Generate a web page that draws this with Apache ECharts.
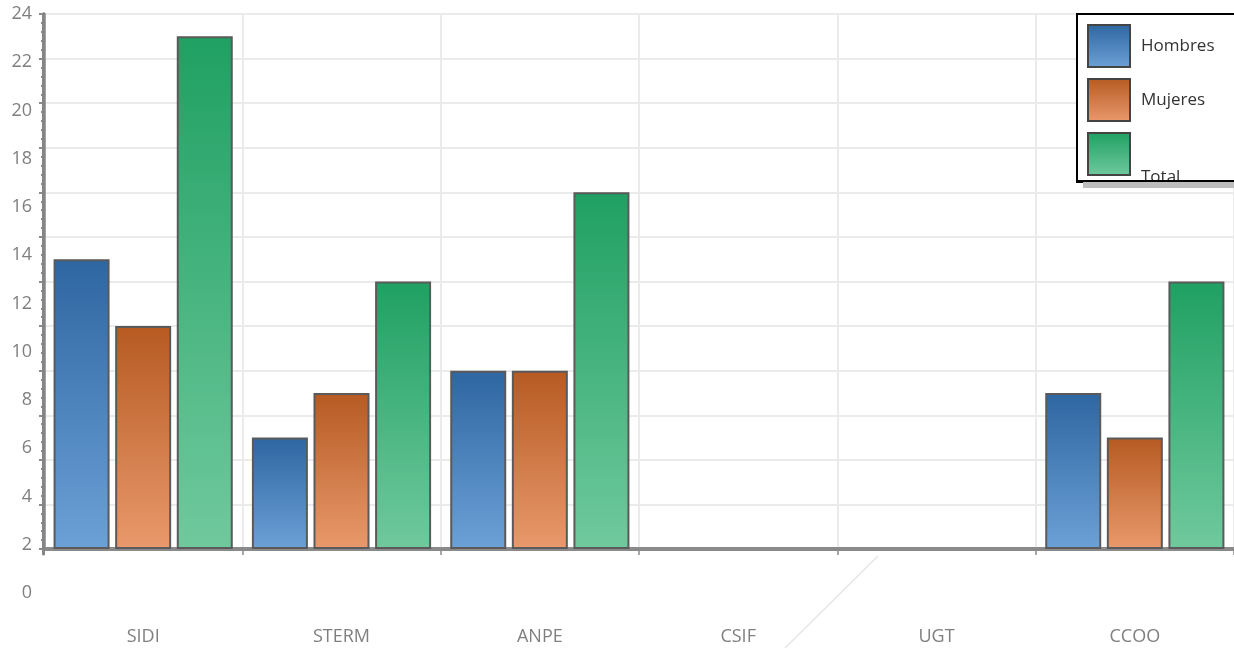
<!DOCTYPE html>
<html><head><meta charset="utf-8">
<script src="https://cdn.jsdelivr.net/npm/echarts@6/dist/echarts.min.js"></script>
<style>html,body{margin:0;padding:0;background:#fff}#c{width:1234px;height:648px}</style>
</head><body><div id="c"></div>
<script>
const categories = ['SIDI', 'STERM', 'ANPE', 'CSIF', 'UGT', 'CCOO'];
const hombres = [13, 5, 8, 0, 0, 7];
const mujeres = [10, 7, 8, 0, 0, 5];
const total = [23, 12, 16, 0, 0, 12];
const seriesNames = ['Hombres', 'Mujeres', 'Total'];

const FONT = '"Open Sans", "Noto Sans", sans-serif';
function grad(top, bottom) {
  return new echarts.graphic.LinearGradient(0, 0, 0, 1, [
    { offset: 0, color: top }, { offset: 1, color: bottom }
  ]);
}
const fills = [grad('#2e66a1', '#6ba1d6'), grad('#b65a22', '#e9996c'), grad('#20a063', '#70c99d')];
const dataSets = [hombres, mujeres, total];

const chart = echarts.init(document.getElementById('c'), null, { renderer: 'canvas' });
chart.setOption({
  animation: false,
  backgroundColor: '#ffffff',
  textStyle: { fontFamily: FONT },
  grid: [
    { left: 44, right: 0, top: 14, bottom: 99, containLabel: false },
    { left: 44, right: 0, top: 14, bottom: 55, containLabel: false },
    { left: 43, right: 0, top: 14, bottom: 94, containLabel: false }
  ],
  xAxis: [
    {
      type: 'category', gridIndex: 0, data: categories, boundaryGap: true,
      axisLine: { show: true, onZero: false, lineStyle: { color: '#8a8a8a', width: 4 } },
      axisTick: { show: true, alignWithLabel: false, length: 6, lineStyle: { color: '#8a8a8a', width: 1.5 } },
      axisLabel: { margin: 79, color: '#7f7f7f', fontSize: 18, fontFamily: FONT },
      splitLine: { show: true, interval: function (idx) { return idx !== 0; }, lineStyle: { color: '#ebebeb', width: 2 } }
    },
    { type: 'category', gridIndex: 1, data: categories, show: false },
    { type: 'category', gridIndex: 2, data: categories, show: false }
  ],
  yAxis: [
    {
      type: 'value', gridIndex: 0, min: 0, max: 24, interval: 2, position: 'left', offset: 0,
      axisLine: { show: true, onZero: false, lineStyle: { color: '#858585', width: 3.5 } },
      axisTick: { show: true, length: 5, lineStyle: { color: '#8a8a8a', width: 2 } },
      minorTick: { show: true, splitNumber: 5, length: 3, lineStyle: { color: '#8a8a8a', width: 2 } },
      axisLabel: { show: false },
      splitLine: { show: true, lineStyle: { color: '#ebebeb', width: 2 } }
    },
    {
      type: 'value', gridIndex: 1, min: 0, max: 24, interval: 2,
      axisLine: { show: false }, axisTick: { show: false }, splitLine: { show: false },
      axisLabel: { show: true, margin: 12, color: '#7f7f7f', fontSize: 18, fontFamily: FONT }
    },
    {
      type: 'value', gridIndex: 2, min: 0, max: 24, interval: 2, z: 4,
      axisLine: { show: true, onZero: false, lineStyle: { color: '#858585', width: 3 } },
      axisTick: { show: false }, splitLine: { show: false }, axisLabel: { show: false }
    }
  ],
  legend: {
    orient: 'vertical', left: 1077, top: 14, z: 20,
    padding: [10, 60, 6, 10],
    icon: 'rect',
    itemWidth: 42, itemHeight: 42, itemGap: 10,
    backgroundColor: '#ffffff', borderColor: '#000000', borderWidth: 2, borderRadius: 0,
    data: seriesNames,
    formatter: function (n) { return n === 'Total' ? '' : n; },
    textStyle: { color: '#333333', fontSize: 17, fontFamily: FONT, padding: [5, 0, 0, 6] },
    itemStyle: { borderColor: '#444444', borderWidth: 2 },
    selectedMode: false
  },
  series: seriesNames.map((name, i) => ({
    name: name, type: 'bar', xAxisIndex: 0, yAxisIndex: 0,
    data: dataSets[i].map(v => v === 0 ? { value: v, itemStyle: { borderWidth: 0 } } : v),
    barWidth: 56, barGap: '10%',
    itemStyle: { color: fills[i], borderColor: '#5a5a5a', borderWidth: 2 }
  })),
  graphic: [
    { type: 'rect', z: 1, shape: { x: 1083, y: 20, width: 200, height: 168 }, style: { fill: '#bdbdbd' } },
    { type: 'text', z: 100, left: 1141, top: 169, style: { text: 'Total', fill: '#333333', font: '17px ' + FONT } },
    { type: 'rect', z: 101, shape: { x: 1083, y: 182, width: 200, height: 6 }, style: { fill: '#bdbdbd' } },
    { type: 'rect', z: 101, shape: { x: 1076, y: 180, width: 200, height: 2 }, style: { fill: '#000000' } },
    { type: 'line', z: 0, shape: { x1: 785, y1: 648, x2: 878, y2: 556 }, style: { stroke: '#e6e6e6', lineWidth: 1.5 } }
  ]
});
</script></body></html>
